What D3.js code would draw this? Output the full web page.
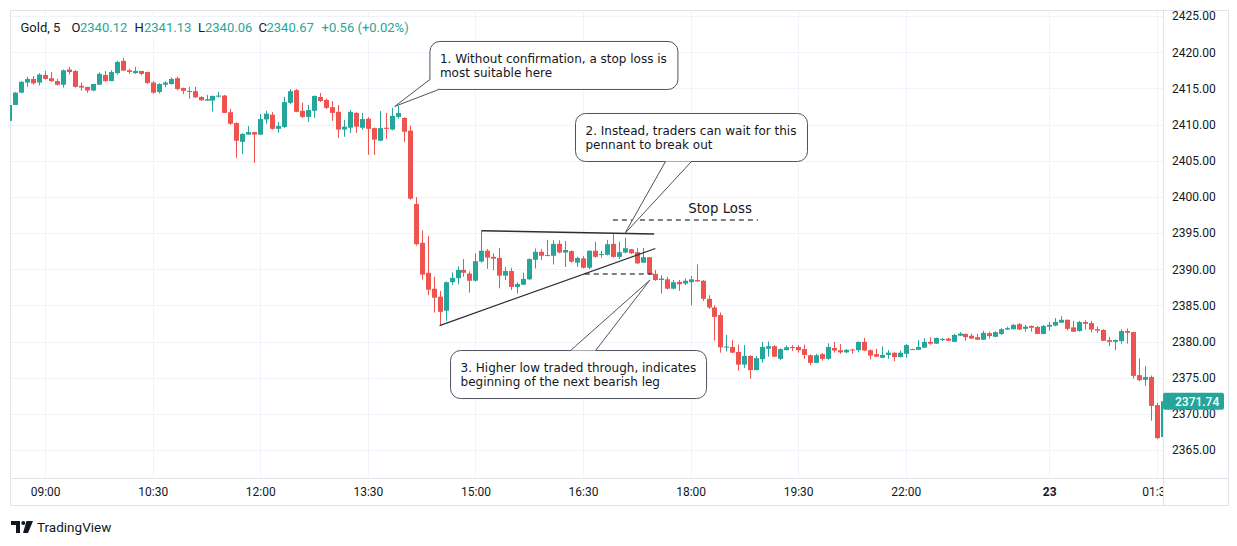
<!DOCTYPE html>
<html><head><meta charset="utf-8">
<script src="https://cdn.jsdelivr.net/npm/d3@7"></script>
<style>
body{margin:0;background:#fff;}
svg{display:block;font-family:Roboto,"Open Sans",sans-serif;}
</style></head>
<body><svg id="chart" width="1237" height="546"></svg>
<script>
// ---------- DATA (5-minute Gold candles) ----------
const opens = [2410.5,2412.7,2414.4,2415.8,2416.3,2415.8,2416.85,2416.4,2416.0,2415.5,
2417.6,2417.4,2415.35,2415.2,2414.7,2415.5,2416.85,2416.0,2417.1,2418.8,
2417.5,2417.1,2417.4,2417.25,2415.8,2414.5,2415.5,2415.6,2416.4,2415.05,
2414.63,2414.6,2413.8,2413.3,2413.3,2413.85,2414.0,2411.7,2410.2,2407.6,
2408.6,2408.95,2408.6,2410.7,2411.35,2409.4,2409.65,2413.0,2414.75,2411.9,
2411.05,2411.9,2413.8,2413.4,2412.4,2411.75,2409.3,2409.55,2411.6,2409.55,
2410.8,2409.5,2407.75,2409.55,2409.3,2411.05,2410.9,2409.15,2399.0,2393.65,
2389.5,2387.3,2386.2,2384.25,2388.2,2388.75,2389.9,2389.4,2388.4,2391.05,
2392.55,2391.7,2391.55,2389.1,2389.75,2387.55,2387.85,2388.6,2391.3,2392.4,
2391.85,2391.85,2393.5,2392.3,2392.5,2390.9,2391.5,2390.2,2392.55,2391.95,
2392.0,2393.5,2391.7,2392.3,2392.75,2392.35,2390.9,2391.65,2389.35,2388.5,
2388.6,2387.3,2388.25,2388.0,2388.2,2388.5,2388.4,2385.9,2384.7,2383.65,
2379.15,2379.25,2378.55,2376.8,2378.0,2376.05,2377.55,2379.0,2379.35,2377.6,
2378.8,2379.25,2379.25,2378.95,2378.1,2377.05,2378.25,2377.6,2379.1,2378.8,
2378.5,2378.9,2378.8,2379.95,2378.8,2378.25,2377.75,2378.15,2378.45,2377.85,
2378.3,2378.95,2378.85,2379.15,2379.95,2379.7,2380.2,2380.4,2379.95,2380.8,
2381.05,2380.8,2380.6,2380.25,2381.15,2380.65,2381.05,2381.65,2381.7,2382.4,
2381.75,2382.15,2382.0,2381.05,2382.05,2382.2,2382.6,2383.0,2381.95,2381.45,
2382.7,2382.55,2381.7,2381.6,2380.2,2379.95,2380.05,2381.45,2381.3,2375.35,
2374.7,2375.1,2371.2,2366.8];
const highs = [2413.0,2414.5,2416.0,2416.6,2416.7,2417.1,2417.4,2417.25,2416.3,2417.6,
2417.95,2417.5,2415.8,2415.2,2415.6,2417.2,2417.4,2417.5,2418.8,2419.2,
2417.7,2417.95,2417.4,2417.3,2416.0,2415.7,2416.0,2416.5,2416.6,2415.1,
2415.2,2415.2,2413.9,2414.1,2414.0,2414.5,2414.1,2412.15,2410.3,2408.8,
2409.8,2409.0,2411.45,2411.9,2411.7,2410.35,2413.8,2414.9,2414.9,2413.0,
2412.7,2414.0,2414.35,2413.6,2413.25,2412.7,2410.65,2412.0,2411.7,2411.6,
2411.0,2409.6,2411.85,2411.6,2412.3,2412.6,2411.0,2409.85,2399.95,2395.35,
2394.6,2388.95,2387.0,2388.3,2389.55,2390.4,2391.4,2389.7,2392.2,2395.3,
2392.8,2392.2,2392.9,2390.3,2390.2,2388.2,2389.5,2391.5,2392.85,2392.8,
2394.05,2394.0,2394.0,2393.9,2392.6,2391.7,2391.8,2392.6,2393.8,2392.55,
2394.05,2394.95,2393.8,2394.35,2392.8,2392.9,2392.95,2391.7,2389.9,2389.15,
2388.95,2388.5,2388.5,2388.7,2389.05,2390.65,2388.5,2386.4,2385.0,2384.0,
2380.9,2380.2,2379.55,2379.5,2378.1,2378.0,2379.95,2380.0,2379.5,2379.05,
2379.45,2379.5,2379.5,2379.55,2378.2,2378.3,2378.4,2379.75,2379.95,2379.65,
2378.95,2379.0,2380.0,2380.5,2378.9,2379.0,2379.3,2378.8,2378.5,2378.75,
2379.65,2379.0,2380.2,2380.45,2380.6,2380.55,2380.5,2380.5,2381.05,2381.3,
2381.1,2381.1,2381.05,2381.5,2381.35,2381.4,2381.85,2382.05,2382.4,2382.55,
2382.3,2382.2,2382.15,2382.3,2382.7,2383.25,2383.5,2383.05,2382.85,2382.85,
2382.95,2382.85,2382.05,2381.7,2380.65,2380.3,2381.7,2381.8,2381.35,2377.65,
2376.6,2375.3,2371.5,2372.3];
const lows = [2410.3,2412.7,2414.3,2415.2,2415.5,2415.4,2416.2,2415.85,2415.4,2415.1,
2416.9,2415.1,2414.65,2414.4,2414.6,2415.5,2415.9,2416.0,2416.9,2417.4,
2417.0,2417.0,2416.8,2415.6,2414.25,2414.3,2415.15,2415.5,2414.7,2414.2,
2413.55,2413.7,2413.3,2413.25,2411.8,2413.7,2411.6,2409.95,2405.4,2405.9,
2408.55,2404.7,2408.55,2410.1,2409.3,2408.85,2409.5,2412.8,2411.7,2410.9,
2410.35,2410.9,2413.1,2412.15,2410.5,2408.15,2408.3,2408.85,2408.85,2409.3,
2405.8,2405.8,2407.7,2408.0,2409.2,2410.8,2407.6,2399.6,2393.25,2388.55,
2386.4,2384.0,2382.2,2382.85,2387.8,2387.9,2388.95,2386.75,2388.3,2390.9,
2390.05,2389.85,2387.35,2388.5,2387.1,2386.65,2387.8,2388.5,2390.1,2391.25,
2391.8,2390.65,2392.2,2390.3,2390.9,2390.35,2390.1,2390.0,2391.6,2391.6,
2391.9,2391.6,2391.4,2392.2,2392.1,2390.7,2390.85,2389.2,2388.4,2386.65,
2387.2,2387.2,2387.0,2387.8,2385.0,2388.25,2385.6,2384.5,2380.1,2378.45,
2378.6,2378.4,2375.95,2376.35,2374.85,2376.0,2377.05,2377.9,2377.85,2377.45,
2378.8,2378.7,2378.45,2377.6,2376.75,2377.0,2377.35,2377.5,2378.45,2378.3,
2378.4,2378.3,2378.5,2378.7,2377.5,2377.85,2377.7,2377.6,2377.3,2377.8,
2377.75,2378.85,2378.8,2379.1,2379.55,2379.65,2380.05,2380.05,2379.9,2380.75,
2380.1,2380.35,2380.2,2380.2,2380.4,2380.6,2380.9,2381.6,2381.65,2381.6,
2381.35,2381.35,2381.0,2381.0,2381.5,2382.1,2382.55,2381.5,2381.3,2381.35,
2381.65,2381.25,2381.15,2380.05,2379.35,2378.8,2379.7,2379.7,2374.85,2374.5,
2373.85,2369.05,2366.5,2366.7];
const closes = [2412.7,2414.4,2415.9,2416.3,2415.7,2416.9,2416.3,2416.0,2415.5,2417.5,
2417.25,2415.2,2415.1,2414.7,2415.6,2417.0,2416.0,2417.25,2418.65,2417.45,
2417.25,2417.4,2417.0,2415.75,2414.4,2415.6,2415.8,2416.3,2414.9,2414.65,
2414.55,2413.75,2413.35,2413.5,2413.95,2414.0,2411.6,2410.1,2407.75,2408.7,
2408.95,2408.6,2410.75,2411.5,2409.4,2409.8,2413.1,2414.6,2411.75,2411.05,
2412.0,2413.95,2413.25,2412.3,2411.6,2409.3,2409.7,2411.75,2409.7,2410.75,
2409.4,2407.9,2409.5,2409.4,2411.2,2411.6,2409.0,2399.75,2393.45,2389.25,
2387.15,2386.05,2384.1,2388.2,2388.8,2389.9,2389.5,2388.4,2391.1,2392.55,
2391.6,2391.45,2389.1,2389.75,2387.55,2387.95,2388.65,2391.4,2392.4,2391.85,
2391.95,2393.5,2392.3,2392.65,2391.05,2391.55,2390.2,2392.55,2391.7,2392.1,
2393.45,2391.7,2392.35,2392.9,2392.2,2390.8,2391.65,2389.35,2388.5,2388.7,
2387.3,2388.2,2387.9,2388.4,2388.6,2388.3,2385.9,2384.7,2383.4,2379.2,
2379.3,2378.45,2376.8,2378.0,2376.05,2377.7,2379.25,2379.35,2377.9,2378.95,
2379.2,2379.1,2378.8,2378.15,2377.05,2378.1,2377.6,2379.25,2378.75,2378.5,
2378.85,2378.8,2379.95,2378.75,2378.05,2377.9,2378.15,2378.45,2377.85,2378.45,
2379.5,2378.88,2379.25,2379.95,2379.7,2380.5,2380.35,2380.1,2380.9,2381.1,
2380.6,2380.4,2380.25,2381.2,2380.75,2381.3,2381.7,2381.85,2382.3,2381.65,
2382.05,2381.9,2381.05,2382.15,2382.3,2382.7,2383.0,2381.75,2381.35,2382.7,
2382.45,2381.65,2381.5,2380.1,2379.95,2380.2,2381.45,2381.2,2375.25,2374.65,
2375.1,2371.1,2366.65,2371.74];

const priceTicks = [2365,2370,2375,2380,2385,2390,2395,2400,2405,2410,2415,2420,2425];
const timeTickBars = [6,24,42,60,78,96,114,132,150,174,192];
const timeTickLabels = ["09:00","10:30","12:00","13:30","15:00","16:30","18:00","19:30","22:00","23","01:30"];
const lastPrice = 2371.74;
const headerNames = ["Gold, 5","O","H","L","C",""];
const headerValues = ["","2340.12","2341.13","2340.06","2340.67","+0.56 (+0.02%)"];

// annotation anchors in data space [bar index, price]
const pennantTop = [[79,2395.3],[107.9,2394.85]];
const pennantBottom = [[72,2382.2],[108.1,2392.85]];
const stopLossLine = [[101,2396.8],[125.3,2396.8]];
const higherLowLine = [[96.3,2389.33],[108,2389.33]];
const stopLossLabel = {bar:113.6, price:2397.75, text:"Stop Loss"};
const callouts = [
  {tip:[64.5,2412.5], corner:[70.3,2421.55], lines:["1. Without confirmation, a stop loss is","most suitable here"]},
  {tip:[103.0,2394.93], corner:[94.66,2411.59], lines:["2. Instead, traders can wait for this","pennant to break out"]},
  {tip:[107.2,2388.5], corner:[73.75,2378.82], lines:["3. Higher low traded through, indicates","beginning of the next bearish leg"]}
];
// box sizes & tail base offsets (pixels, relative to box corner)
const calloutLayout = [
  {w:248,h:48,b1:[0,38],b2:[9,48]},
  {w:232,h:48,b1:[90,48],b2:[116,48]},
  {w:256,h:48,b1:[120,0],b2:[145,0]}
];

// ---------- LAYOUT ----------
const UP="#26a69a", DOWN="#ef5350", GRID="#f0f3fa", BORDER="#e0e3eb", TXT="#131722";
const paneL=10, paneR=1163, paneT=10, paneB=478, outerR=1228, outerB=505;

const svg = d3.select("#chart");
const x = d3.scaleLinear().domain([0,193]).range([9.3,1162.7]);
const y = d3.scaleLinear().domain([2365,2425]).range([450,16]);
const px = d => x(d[0]), py = d => y(d[1]);

const defs = svg.append("defs");
defs.append("clipPath").attr("id","pane")
  .append("rect").attr("x",paneL).attr("y",paneT).attr("width",paneR-paneL).attr("height",paneB-paneT);
defs.append("clipPath").attr("id","taxis")
  .append("rect").attr("x",paneL).attr("y",paneB).attr("width",paneR-paneL).attr("height",outerB-paneB);

// grid
const grid = svg.append("g");
grid.selectAll("line.h").data(priceTicks).join("line")
  .attr("x1",paneL).attr("x2",paneR)
  .attr("y1",d=>Math.round(y(d))+0.5).attr("y2",d=>Math.round(y(d))+0.5)
  .attr("stroke",GRID);
grid.selectAll("line.v").data(timeTickBars).join("line")
  .attr("y1",paneT).attr("y2",paneB)
  .attr("x1",d=>Math.round(x(d))+0.5).attr("x2",d=>Math.round(x(d))+0.5)
  .attr("stroke",GRID);

// frame
const frame = svg.append("g").attr("stroke",BORDER).attr("fill","none");
frame.append("rect").attr("x",paneL+0.5).attr("y",paneT+0.5).attr("width",outerR-paneL).attr("height",outerB-paneT);
frame.append("line").attr("x1",paneL).attr("x2",outerR).attr("y1",paneB+0.5).attr("y2",paneB+0.5);
frame.append("line").attr("x1",paneR+0.5).attr("x2",paneR+0.5).attr("y1",paneT).attr("y2",outerB);

// candles
const bars = d3.range(opens.length);
const cg = svg.append("g").attr("clip-path","url(#pane)");
const col = i => closes[i] >= opens[i] ? UP : DOWN;
cg.selectAll("line.wick").data(bars).join("line")
  .attr("x1",i=>Math.round(x(i))+0.5).attr("x2",i=>Math.round(x(i))+0.5)
  .attr("y1",i=>y(highs[i])).attr("y2",i=>y(lows[i]))
  .attr("stroke",col).attr("stroke-width",1);
cg.selectAll("rect.body").data(bars).join("rect")
  .attr("x",i=>Math.round(x(i))-2).attr("width",5)
  .attr("y",i=>y(Math.max(opens[i],closes[i])))
  .attr("height",i=>Math.max(1,Math.abs(y(opens[i])-y(closes[i]))))
  .attr("fill",col);

// price axis
const yAxis = svg.append("g").attr("transform",`translate(${paneR},0)`)
  .call(d3.axisRight(y).tickValues(priceTicks).tickSize(0).tickPadding(9).tickFormat(d3.format(".2f")));
yAxis.select(".domain").remove();
yAxis.selectAll("text").attr("fill",TXT).attr("font-size",12).attr("font-family","Roboto,sans-serif");

// time axis (clipped at the pane's right edge)
const xWrap = svg.append("g").attr("clip-path","url(#taxis)");
const xAxis = xWrap.append("g").attr("transform",`translate(0,${paneB})`)
  .call(d3.axisBottom(x).tickValues(timeTickBars).tickSize(0).tickPadding(9)
  .tickFormat((d,k)=>timeTickLabels[k]));
xAxis.select(".domain").remove();
xAxis.selectAll("text").attr("fill",TXT).attr("font-size",12).attr("font-family","Roboto,sans-serif")
  .attr("font-weight",(d,k)=>timeTickLabels[k]==="23"?"bold":null);

// last price label
const lp = svg.append("g");
lp.append("rect").attr("x",paneR).attr("y",y(lastPrice)-8.5).attr("width",61).attr("height",17)
  .attr("rx",2).attr("fill",UP);
lp.append("text").attr("x",paneR+12).attr("y",y(lastPrice)+4.3).attr("fill","#fff")
  .attr("font-size",12).attr("font-weight",500).text(d3.format(".2f")(lastPrice));

// pennant & reference lines
const ann = svg.append("g").attr("clip-path","url(#pane)");
const line = d3.line().x(px).y(py);
ann.append("path").attr("d",line(pennantTop)).attr("stroke","#2a2e39").attr("stroke-width",1.5).attr("fill","none");
ann.append("path").attr("d",line(pennantBottom)).attr("stroke","#2a2e39").attr("stroke-width",1.2).attr("fill","none");
ann.append("path").attr("d",line(stopLossLine)).attr("stroke","#000").attr("stroke-width",1.2).attr("stroke-dasharray","5,4").attr("fill","none");
ann.append("path").attr("d",line(higherLowLine)).attr("stroke","#000").attr("stroke-width",1.2).attr("stroke-dasharray","5,4").attr("fill","none");
ann.append("text").attr("x",x(stopLossLabel.bar)).attr("y",y(stopLossLabel.price))
  .attr("font-size",13.3).attr("fill",TXT).attr("font-family","'DejaVu Sans',sans-serif").text(stopLossLabel.text);

// callouts
callouts.forEach((c,k)=>{
  const L = calloutLayout[k];
  const bx = x(c.corner[0]), by = y(c.corner[1]);
  const tx = x(c.tip[0]), ty = y(c.tip[1]);
  const g = svg.append("g");
  g.append("rect").attr("x",bx+0.5).attr("y",by+0.5).attr("width",L.w).attr("height",L.h)
    .attr("rx",10).attr("fill","#fff").attr("stroke","#50535e").attr("stroke-width",1);
  const b1=[bx+L.b1[0]+0.5, by+L.b1[1]+0.5], b2=[bx+L.b2[0]+0.5, by+L.b2[1]+0.5];
  g.append("path").attr("d",`M${tx},${ty}L${b1[0]},${b1[1]}L${b2[0]},${b2[1]}Z`).attr("fill","#fff").attr("stroke","none");
  g.append("path").attr("d",`M${b1[0]},${b1[1]}L${tx},${ty}L${b2[0]},${b2[1]}`).attr("fill","none")
    .attr("stroke","#50535e").attr("stroke-width",1);
  const t = g.append("text").attr("font-size",12).attr("fill",TXT).attr("font-family","'DejaVu Sans',sans-serif");
  t.selectAll("tspan").data(c.lines).join("tspan")
    .attr("x",bx+10.5).attr("y",(d,j)=>by+22+j*14).text(d=>d);
});

// header legend
const hdr = svg.append("g");
hdr.append("rect").attr("x",13).attr("y",17).attr("width",400).attr("height",21).attr("fill","#fff");
const hx = [20.5,71.5,134.5,198,258.5,321.5];
const vx = [0,80,144,205,266.5,321.5];
headerNames.forEach((n,k)=>{
  if(n) hdr.append("text").attr("x",hx[k]).attr("y",32).attr("font-size",13).attr("fill",TXT).text(n);
  if(headerValues[k]) hdr.append("text").attr("x",vx[k]).attr("y",32).attr("font-size",13).attr("fill",UP).text(headerValues[k]);
});

// TradingView logo
const logo = svg.append("g").attr("fill",TXT);
logo.append("path").attr("d","M11,521h9v12h-4v-8h-5z");
logo.append("circle").attr("cx",23.3).attr("cy",523).attr("r",2);
logo.append("path").attr("d","M26.5,521h6.5l-5,12h-5z");
logo.append("text").attr("x",37).attr("y",532).attr("font-size",13.5).attr("fill",TXT).text("TradingView");
</script></body></html>
